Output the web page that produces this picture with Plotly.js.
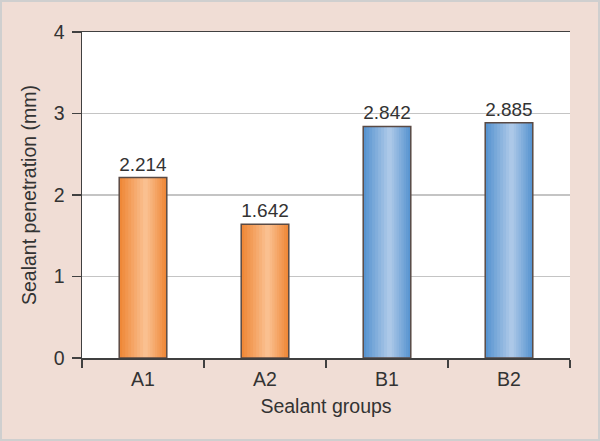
<!DOCTYPE html>
<html>
<head>
<meta charset="utf-8">
<script src="https://cdn.plot.ly/plotly-3.0.1.min.js"></script>
<style>
  html, body { margin: 0; padding: 0; background: #f0ddd5; }
  #chart { width: 600px; height: 441px; }
</style>
</head>
<body>
<div id="chart"></div>
<script>
// Sealant penetration per group
const groups = ['A1', 'A2', 'B1', 'B2'];
const penetration = [2.214, 1.642, 2.842, 2.885];
const labels = ['2.214', '1.642', '2.842', '2.885'];
const family = ['A', 'A', 'B', 'B'];

// gradient colours: edge -> centre
const edgeCol = { A: [239, 136, 56], B: [88, 148, 208] };
const midCol = { A: [250, 192, 144], B: [172, 200, 232] };

const barWidth = 0.39;
const layers = 9;

function mix(a, b, t) {
    return 'rgb(' + a.map((v, i) => Math.round(v + (b[i] - v) * t)).join(',') + ')';
}

const traces = [];
for (let k = 0; k < layers; k++) {
    const t = k / (layers - 1);
    const w = barWidth * (1 - t * 0.9);
    const shift = 0.02 * t;
    traces.push({
        type: 'bar',
        x: groups,
        y: penetration,
        width: groups.map(() => w),
        offset: groups.map(() => -w / 2 + shift),
        marker: {
            color: family.map(f => mix(edgeCol[f], midCol[f], t)),
            line: { width: 0 }
        },
        hoverinfo: 'skip',
        showlegend: false
    });
}

// outline + value labels on top
traces.push({
    type: 'bar',
    x: groups,
    y: penetration,
    width: groups.map(() => barWidth),
    offset: groups.map(() => -barWidth / 2),
    marker: {
        color: 'rgba(0,0,0,0)',
        line: { color: '#5a4a44', width: 1.5 }
    },
    text: labels,
    textposition: 'outside',
    textfont: { family: 'Liberation Sans, Arial, sans-serif', size: 19.5, color: '#333333' },
    cliponaxis: false,
    hoverinfo: 'skip',
    showlegend: false
});

const L = 82, R = 30, T = 32, B = 83;
const pw = 600 - L - R, ph = 441 - T - B;

Plotly.newPlot('chart', traces, {
    width: 600,
    height: 441,
    margin: { l: L, r: R, t: T, b: B },
    barmode: 'overlay',
    paper_bgcolor: '#f0ddd5',
    plot_bgcolor: '#ffffff',
    font: { family: 'Liberation Sans, Arial, sans-serif', color: '#333333' },
    xaxis: {
        type: 'category',
        showline: true,
        mirror: true,
        linecolor: '#404040',
        linewidth: 1.5,
        ticks: 'outside',
        tickson: 'boundaries',
        ticklen: 8,
        tickcolor: '#404040',
        tickwidth: 1.5,
        ticklabelstandoff: 3,
        tickfont: { size: 19.5, color: '#333333' },
        showgrid: false,
        title: { text: 'Sealant groups', font: { size: 19.5, color: '#333333' }, standoff: 10 }
    },
    yaxis: {
        range: [0, 4],
        dtick: 1,
        showline: true,
        linecolor: '#404040',
        linewidth: 1.5,
        ticks: 'outside',
        ticklen: 9,
        tickcolor: '#404040',
        tickwidth: 1.5,
        ticklabelstandoff: 3,
        tickfont: { size: 19.5, color: '#333333' },
        showgrid: true,
        gridcolor: '#c4c4c4',
        gridwidth: 1.2,
        zeroline: false,
        title: { text: 'Sealant penetration (mm)', font: { size: 19.5, color: '#333333' }, standoff: 12 }
    },
    shapes: [{
        type: 'rect',
        xref: 'paper', yref: 'paper',
        x0: -(L - 1) / pw, x1: 1 + (R - 1) / pw,
        y0: -(B - 1) / ph, y1: 1 + (T - 1) / ph,
        line: { color: '#cfcfcf', width: 2 },
        fillcolor: 'rgba(0,0,0,0)',
        layer: 'above'
    }]
}, { displayModeBar: false, staticPlot: true });
</script>
</body>
</html>
